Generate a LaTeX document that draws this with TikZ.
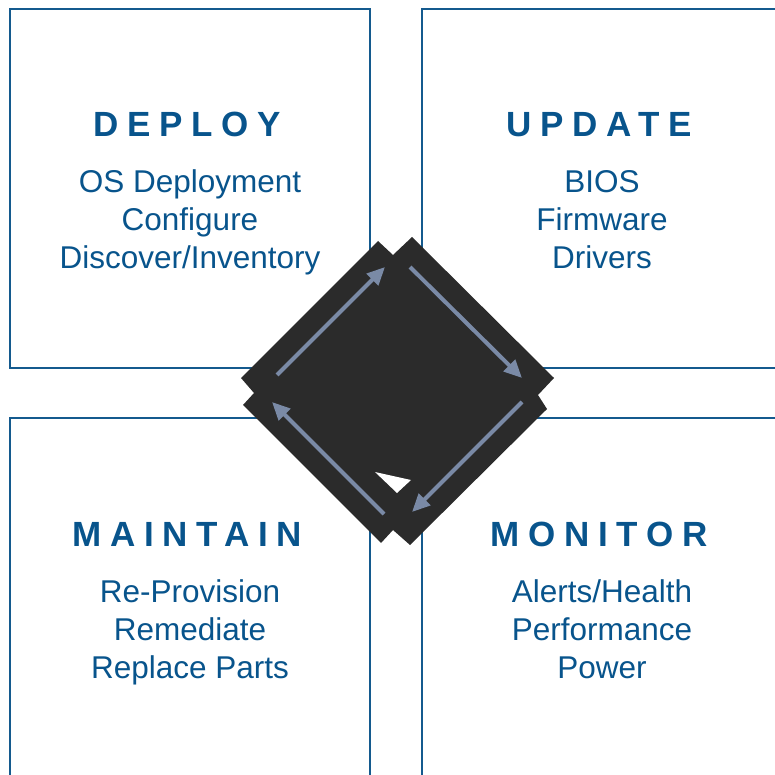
\documentclass[tikz,border=0pt]{standalone}
\usepackage{fontspec}
\setmainfont{Liberation Sans}
\newfontfamily\headfont[LetterSpace=25]{Liberation Sans}
\usetikzlibrary{arrows.meta}
\definecolor{boxblue}{RGB}{20,90,142}
\definecolor{textblue}{RGB}{8,84,140}
\definecolor{darkfill}{RGB}{43,43,43}
\definecolor{arrowgrey}{RGB}{122,138,166}
\tikzset{
  quad/.style={draw=boxblue, line width=2.2pt, minimum width=360pt, minimum height=359pt, inner sep=0pt},
  head/.style={text=textblue, font=\headfont\bfseries\fontsize{35}{40}\selectfont, anchor=base, inner sep=0pt},
  body/.style={text=textblue, font=\fontsize{31.5}{38}\selectfont, align=center, anchor=base, inner sep=0pt},
  cyc/.style={draw=arrowgrey, line width=4pt, -{Triangle[length=18pt,width=16pt]}}
}
\begin{document}
\begin{tikzpicture}[x=1pt,y=-1pt]
\useasboundingbox (0,0) rectangle (775,775);
\clip (0,0) rectangle (775,775);
% quadrant boxes
\node[quad] (tl) at (190,188.5) {};
\node[quad, minimum width=358pt] (tr) at (601,188.5) {};
\node[quad] (bl) at (190,597.5) {};
\node[quad, minimum width=358pt] (br) at (601,597.5) {};
% headings
\node[head] (hdeploy) at (187,137) {DEPLOY};
\node[head] (hupdate) at (599,137) {UPDATE};
\node[head] (hmaintain) at (187,546) {MAINTAIN};
\node[head] (hmonitor) at (599,546) {MONITOR};
% bodies (base anchor = baseline of last line)
\node[body] (bdeploy) at (190,269) {OS Deployment\\Configure\\Discover/Inventory};
\node[body] (bupdate) at (602,269) {BIOS\\Firmware\\Drivers};
\node[body] (bmaintain) at (190,678) {Re-Provision\\Remediate\\Replace Parts};
\node[body] (bmonitor) at (602,678) {Alerts/Health\\Performance\\Power};
% central cycle shape
\fill[darkfill] (378,241) -- (393,255) -- (412,237) -- (554,378) -- (538,395) -- (547,409)
  -- (410,545) -- (393,530) -- (381,543) -- (243,405) -- (254,393) -- (241,378) -- cycle;
\fill[white] (375,472) -- (411,480) -- (397,493) -- cycle;
% arrow end points
\coordinate (a1s) at (277,375); \coordinate (a1e) at (385,267);
\coordinate (a2s) at (410,267); \coordinate (a2e) at (522,378);
\coordinate (a3s) at (522,402); \coordinate (a3e) at (412,512);
\coordinate (a4s) at (384,514); \coordinate (a4e) at (272,402);
\draw[cyc] (a1s) -- (a1e);
\draw[cyc] (a2s) -- (a2e);
\draw[cyc] (a3s) -- (a3e);
\draw[cyc] (a4s) -- (a4e);
\end{tikzpicture}
\end{document}
